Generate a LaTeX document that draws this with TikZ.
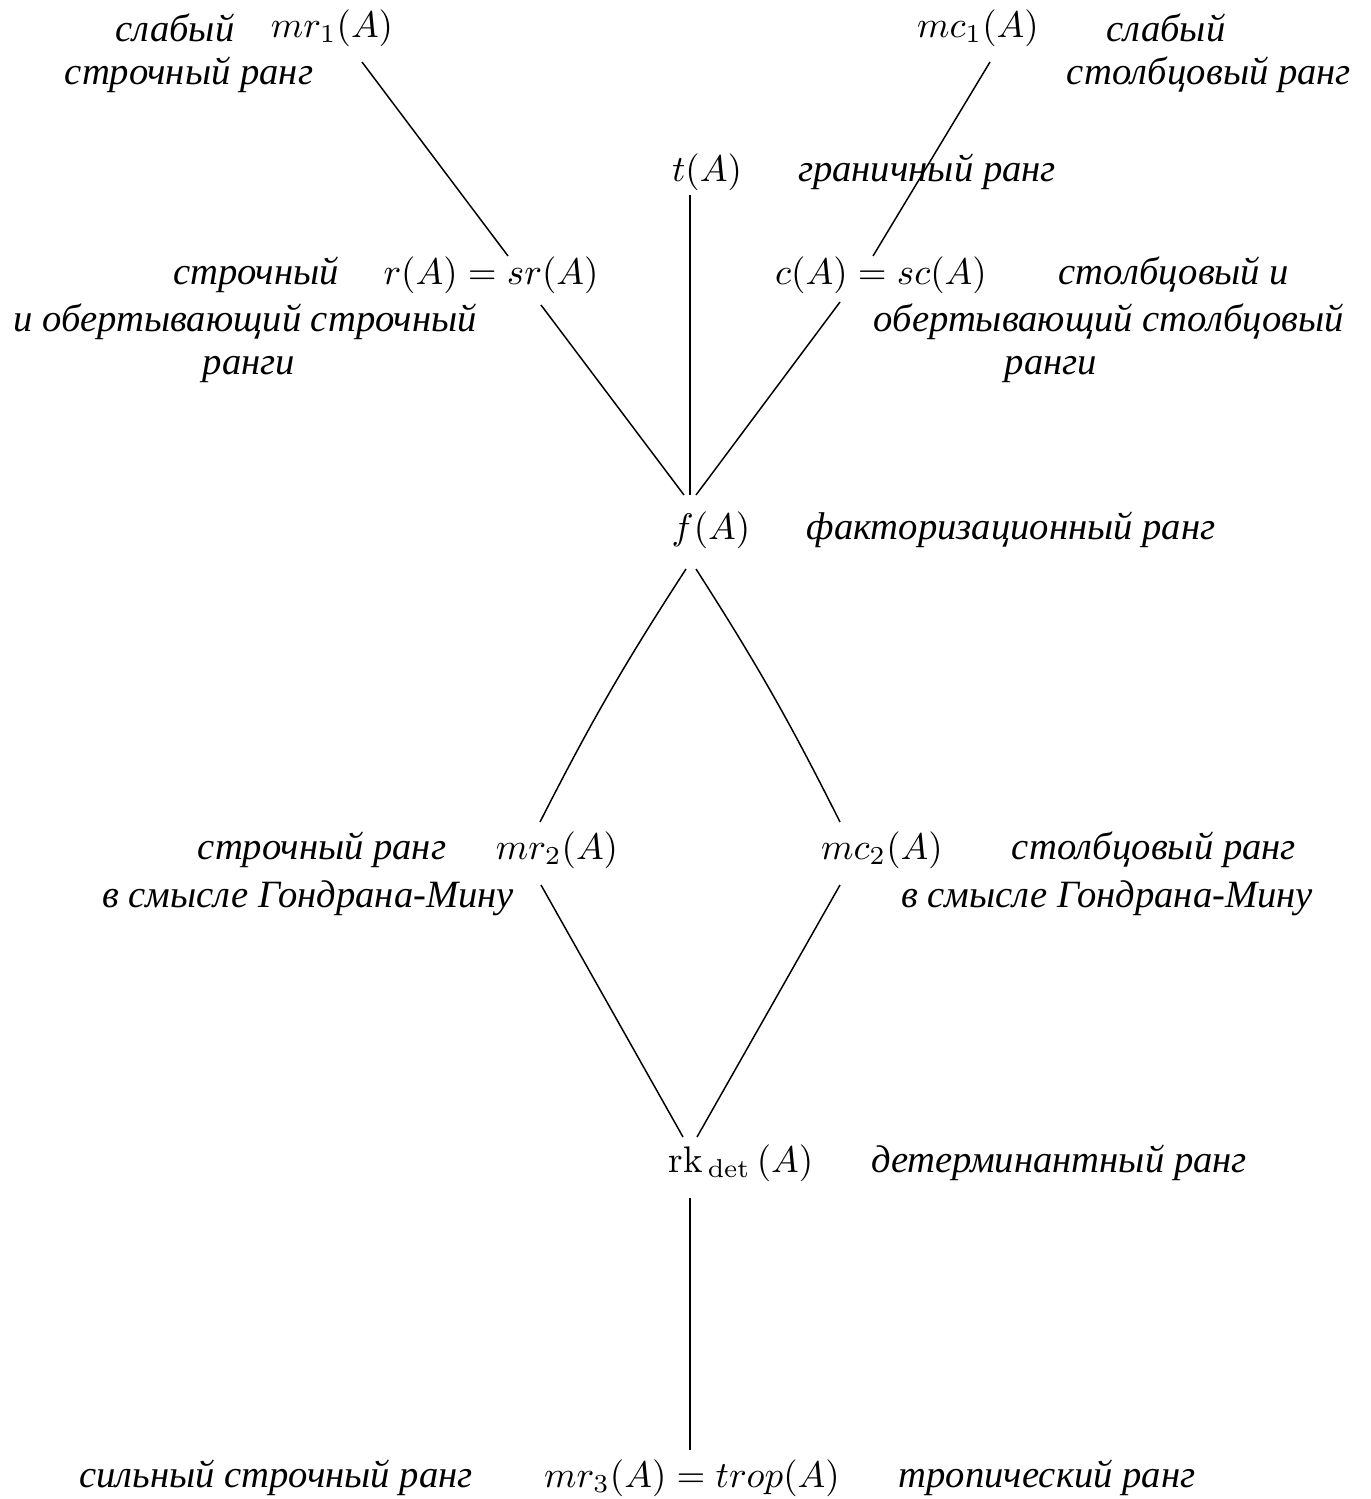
\documentclass[tikz,border=0pt]{standalone}
\usepackage{fontspec}
\newfontfamily\cyr{Liberation Serif}
\begin{document}
\begin{tikzpicture}[x=0.00951cm,y=-0.00951cm,
  rus/.style={font=\cyr\itshape\fontsize{10.45}{12}\selectfont,inner sep=0pt,anchor=center},
  mth/.style={inner sep=0pt,anchor=center},
  edge/.style={line width=0.4pt}]
\useasboundingbox (0,0) rectangle (1370,1499);
% math nodes
\node[mth] (mr1) at (332,28) {$mr_1(A)$};
\node[mth] (mc1) at (978,28) {$mc_1(A)$};
\node[mth] (t) at (707,172) {$t(A)$};
\node[mth] (sr) at (491,275) {$r(A)=sr(A)$};
\node[mth] (sc) at (881,275) {$c(A)=sc(A)$};
\node[mth] (f) at (711,530) {$f(A)$};
\node[mth] (mr2) at (557,850) {$mr_2(A)$};
\node[mth] (mc2) at (882,850) {$mc_2(A)$};
\node[mth] (rk) at (741,1163) {$\mathrm{rk}_{\,\mathrm{det}}\,(A)$};
\node[mth] (mr3) at (692,1478) {$mr_3(A)=trop(A)$};
% labels
\node[rus] (l1a) at (175,28) {слабый};
\node[rus] (l1b) at (189,75) {строчный ранг};
\node[rus] (l2a) at (1166,28) {слабый};
\node[rus] (l2b) at (1209,75) {столбцовый ранг};
\node[rus] (l3) at (927,172) {граничный ранг};
\node[rus] (l4a) at (256,275) {строчный};
\node[rus] (l4b) at (245,322) {и обертывающий строчный};
\node[rus] (l4c) at (249,370) {ранги};
\node[rus] (l5a) at (1174,275) {столбцовый и};
\node[rus] (l5b) at (1109,322) {обертывающий столбцовый};
\node[rus] (l5c) at (1051,370) {ранги};
\node[rus] (l6) at (1011,530) {факторизационный ранг};
\node[rus] (l7a) at (322,850) {строчный ранг};
\node[rus] (l7b) at (308,898) {в смысле Гондрана-Мину};
\node[rus] (l8a) at (1154,850) {столбцовый ранг};
\node[rus] (l8b) at (1107,898) {в смысле Гондрана-Мину};
\node[rus] (l9) at (1059,1163) {детерминантный ранг};
\node[rus] (l10a) at (276,1478) {сильный строчный ранг};
\node[rus] (l10b) at (1047,1478) {тропический ранг};
% connector ends
\coordinate (mr1e) at (362,62);
\coordinate (sre) at (508,256);
\coordinate (mc1e) at (990,62);
\coordinate (sce) at (873,256);
\coordinate (te) at (690,195);
\coordinate (ft) at (690,495);
\coordinate (srb) at (541,305);
\coordinate (ftl) at (684,495);
\coordinate (scb) at (840,302);
\coordinate (ftr) at (696,495);
\coordinate (fbl) at (686,569);
\coordinate (fbr) at (696,569);
\coordinate (mr2t) at (540,822);
\coordinate (mc2t) at (840,822);
\coordinate (mr2b) at (541,885);
\coordinate (mc2b) at (840,885);
\coordinate (rktl) at (683,1137);
\coordinate (rktr) at (697,1137);
\coordinate (rkb) at (690,1198);
\coordinate (mr3t) at (690,1450);
% connectors
\draw[edge] (mr1e) -- (sre);
\draw[edge] (mc1e) -- (sce);
\draw[edge] (te) -- (ft);
\draw[edge] (srb) -- (ftl);
\draw[edge] (scb) -- (ftr);
\draw[edge] (fbl) to[bend right=3] (mr2t);
\draw[edge] (fbr) to[bend left=3] (mc2t);
\draw[edge] (mr2b) -- (rktl);
\draw[edge] (mc2b) -- (rktr);
\draw[edge] (rkb) -- (mr3t);
\end{tikzpicture}
\end{document}
